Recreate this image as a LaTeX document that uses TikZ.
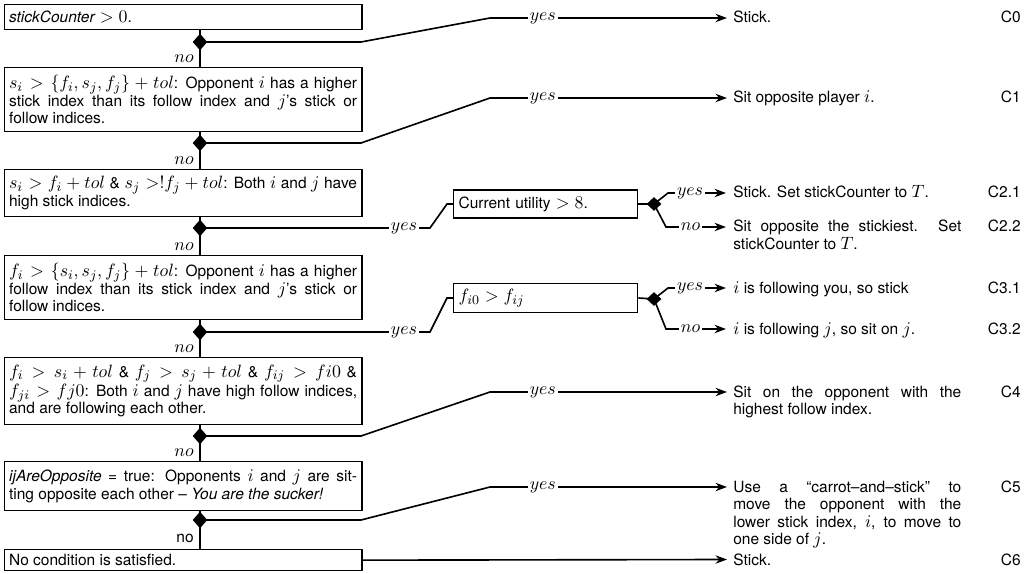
\RequirePackage{fix-cm}
\documentclass[tikz,border=0pt]{standalone}
\usepackage[no-math]{fontspec}
\setmainfont[Ligatures=TeX]{TeX Gyre Heros}
\usetikzlibrary{shapes.geometric,arrows.meta}
\DeclareMathSizes{10}{11.5}{8.5}{6.5}
\tikzset{
  every node/.style={font=\fontsize{10}{11.3}\selectfont},
  box/.style={draw, line width=0.8pt, anchor=north west, text width=224.5pt,
    inner xsep=3.23pt, inner ysep=0pt, align=justify},
  cbox/.style={draw, line width=0.8pt, anchor=west, text width=112.3pt,
    inner xsep=3.23pt, inner ysep=0pt, align=left},
  dia/.style={diamond, fill=black, inner sep=0pt, minimum width=9.5pt, minimum height=10.8pt},
  sdia/.style={diamond, fill=black, inner sep=0pt, minimum width=9.7pt, minimum height=9pt},
  conn/.style={line width=1.05pt},
  arr/.style={conn, -{Stealth[length=7.4pt,width=5.4pt]}},
  lab/.style={fill=white, inner sep=1.3pt},
  nolab/.style={anchor=east, inner sep=0pt},
  res/.style={anchor=base west, text width=147.1pt, inner sep=0pt, align=justify},
  cl/.style={anchor=base east, inner sep=0pt},
}
\begin{document}
\begin{tikzpicture}[x=0.6452pt,y=-0.6452pt]
\useasboundingbox (0,0) rectangle (1029,574);
% condition boxes
\node[box, minimum height=16.1pt] (B0) at (3.5,4) {\textit{stickCounter} $>0$.};
\node[box, minimum height=41.3pt] (B1) at (3.5,67) {$s_i > \{f_i, s_j, f_j\} + tol$: Opponent $i$ has a higher\linebreak stick index than its follow index and $j$'s stick or\linebreak follow indices.};
\node[box, minimum height=30.3pt] (B2) at (3.5,169) {$s_i > f_i + tol$ \& $s_j >!f_j + tol$: Both $i$ and $j$ have\linebreak high stick indices.};
\node[box, minimum height=41.3pt] (B3) at (3.5,255) {$f_i > \{s_i, s_j, f_j\} + tol$: Opponent $i$ has a higher\linebreak follow index than its stick index and $j$'s stick or\linebreak follow indices.};
\node[box, minimum height=43.2pt] (B4) at (3.5,357) {$f_i > s_i + tol$ \& $f_j > s_j + tol$ \& $f_{ij} > fi0$ \&\linebreak $f_{ji} > fj0$: Both $i$ and $j$ have high follow indices,\linebreak and are following each other.};
\node[box, minimum height=31.6pt] (B5) at (3.5,461) {\textit{ijAreOpposite} = true: Opponents $i$ and $j$ are sit-\linebreak ting opposite each other -- \textit{You are the sucker!}};
\node[box, minimum height=13.6pt] (B6) at (3.5,549) {No condition is satisfied.};
% diamonds
\node[dia] (D0) at (200,42) {};
\node[dia] (D1) at (200,143) {};
\node[dia] (D2) at (200,228) {};
\node[dia] (D3) at (200,332) {};
\node[dia] (D4) at (200,436) {};
\node[dia] (D5) at (200,520) {};
% no labels
\node[nolab] (N0) at (194,59) {$no$};
\node[nolab] (N1) at (194,161) {$no$};
\node[nolab] (N2) at (194,247) {$no$};
\node[nolab] (N3) at (194,349) {$no$};
\node[nolab] (N4) at (194,453) {$no$};
\node[nolab] (N5) at (194,538) {no};
% vertical chain
\draw[conn] (D0 |- B0.south) -- (D0 |- B1.north);
\draw[conn] (D1 |- B1.south) -- (D1 |- B2.north);
\draw[conn] (D2 |- B2.south) -- (D2 |- B3.north);
\draw[conn] (D3 |- B3.south) -- (D3 |- B4.north);
\draw[conn] (D4 |- B4.south) -- (D4 |- B5.north);
\draw[conn] (D5 |- B5.south) -- (D5 |- B6.north);
% sub-condition boxes
\node[cbox, minimum height=18.1pt] (CU) at (453,204) {Current utility $>8$.};
\node[cbox, minimum height=18.7pt] (FB) at (453,298) {$f_{i0} > f_{ij}$};
\node[sdia] (E2) at (654,204) {};
\node[sdia] (E3) at (654,299) {};
% result texts
\node[res] (R0) at (733,23) {Stick.};
\node[res] (R1) at (733,103) {Sit opposite player $i$.};
\node[res] (R21) at (733,198) {Stick. Set stickCounter to $T$.};
\node[res] (R22) at (733,232) {Sit opposite the stickiest. Set\linebreak stickCounter to $T$.};
\node[res] (R31) at (733,293) {$i$ is following you, so stick};
\node[res] (R32) at (733,334) {$i$ is following $j$, so sit on $j$.};
\node[res] (R4) at (733,397) {Sit on the opponent with the\linebreak highest follow index.};
\node[res] (R5) at (733,492) {Use a ``carrot--and--stick'' to\linebreak move the opponent with the\linebreak lower stick index, $i$, to move to\linebreak one side of $j$.};
\node[res] (R6) at (733,565) {Stick.};
% case labels
\node[cl] (L0) at (1021,23) {C0};
\node[cl] (L1) at (1021,103) {C1};
\node[cl] (L21) at (1021,198) {C2.1};
\node[cl] (L22) at (1021,232) {C2.2};
\node[cl] (L31) at (1021,293) {C3.1};
\node[cl] (L32) at (1021,334) {C3.2};
\node[cl] (L4) at (1021,397) {C4};
\node[cl] (L5) at (1021,492) {C5};
\node[cl] (L6) at (1021,565) {C6};
% bend points and arrow ends
\coordinate (k0a) at (361,42);  \coordinate (k0b) at (490,18);  \coordinate (a0) at (727,18);
\coordinate (k1a) at (361,143); \coordinate (k1b) at (490,98);  \coordinate (a1) at (727,98);
\coordinate (k4a) at (361,436); \coordinate (k4b) at (490,392); \coordinate (a4) at (727,392);
\coordinate (k5a) at (361,520); \coordinate (k5b) at (490,487); \coordinate (a5) at (727,487);
\coordinate (a6) at (727,559.5);
\coordinate (k2a) at (430,228); \coordinate (k2b) at (447,204);
\coordinate (k3a) at (430,332); \coordinate (k3b) at (447,298);
\coordinate (u2) at (668,193); \coordinate (a21) at (726,193);
\coordinate (l2) at (666,227); \coordinate (a22) at (726,227);
\coordinate (u3) at (668,288); \coordinate (a31) at (726,288);
\coordinate (l3) at (666,329); \coordinate (a32) at (726,329);
% yes connectors
\draw[arr] (D0.center) -- (k0a) -- (k0b) -- node[lab,pos=0.223]{$yes$} (a0);
\draw[arr] (D1.center) -- (k1a) -- (k1b) -- node[lab,pos=0.223]{$yes$} (a1);
\draw[arr] (D4.center) -- (k4a) -- (k4b) -- node[lab,pos=0.223]{$yes$} (a4);
\draw[arr] (D5.center) -- (k5a) -- (k5b) -- node[lab,pos=0.223]{$yes$} (a5);
\draw[arr] (B6.east) -- (a6);
\draw[conn] (D2.center) -- node[lab,pos=0.887]{$yes$} (k2a) -- (k2b) -- (CU.west);
\draw[conn] (D3.center) -- node[lab,pos=0.887]{$yes$} (k3a) -- (k3b) -- (FB.west);
\draw[conn] (CU.east) -- (E2.center);
\draw[conn] (FB.east) -- (E3.center);
\draw[arr] (E2.center) -- (u2) -- node[lab,pos=0.38]{$yes$} (a21);
\draw[arr] (E2.center) -- (l2) -- node[lab,pos=0.41]{$no$} (a22);
\draw[arr] (E3.center) -- (u3) -- node[lab,pos=0.38]{$yes$} (a31);
\draw[arr] (E3.center) -- (l3) -- node[lab,pos=0.41]{$no$} (a32);
\end{tikzpicture}
\end{document}
